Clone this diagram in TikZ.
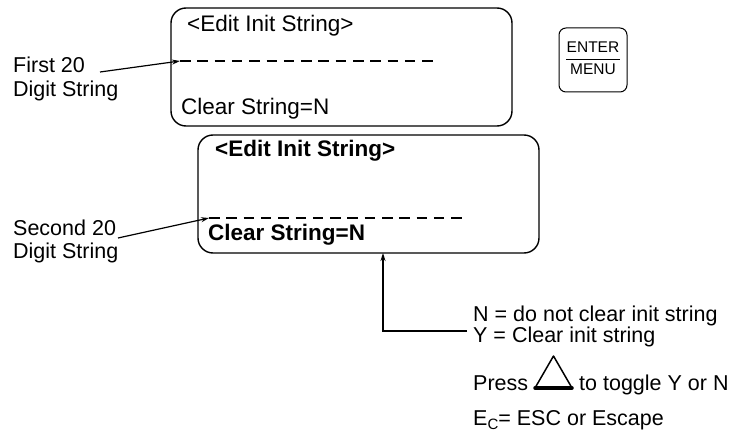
\documentclass[tikz,border=0pt]{standalone}
\usepackage{fontspec}
\setmainfont{Liberation Sans}
\usetikzlibrary{positioning, calc, arrows.meta}

\begin{document}
\begin{tikzpicture}[
    x=1pt, y=-1pt,
    >={Stealth[length=8pt, width=5pt]},
    disp_box/.style={draw, line width=1.4pt, rounded corners=15pt},
    key_box/.style={draw, line width=1pt, rounded corners=7pt},
    txt/.style={anchor=base west, inner sep=0pt, font=\fontsize{22.5}{24}\selectfont},
    btxt/.style={txt, font=\fontsize{22.5}{24}\selectfont\bfseries},
    note/.style={anchor=base west, inner sep=0pt, font=\fontsize{21.5}{23}\selectfont},
    digit_line/.style={line width=1.2pt, dash pattern=on 10.5pt off 6.8pt},
    note_arrow/.style={->, line width=1.2pt}
]
    \useasboundingbox (0,0) rectangle (732,436);

    % ======================================================================
    % ERSTE ANZEIGE
    % ======================================================================
    \draw[disp_box] (171,8) rectangle (512,126);
    \node[txt] (title1) at (187,32) {<Edit Init String>};
    \coordinate (dash1s) at (180,61);
    \coordinate (dash1e) at (438,61);
    \draw[digit_line] (dash1s) -- (dash1e);
    \node[txt] (clear1) at (181,115) {Clear String=N};

    % Beschriftung links
    \node[note] (first20) at (13,73) {First 20};
    \node[note] (digit1) at (13,97) {Digit String};
    \coordinate (arr1s) at (100,72);
    \draw[note_arrow] (arr1s) -- (dash1s);

    % ENTER/MENU Taste
    \draw[key_box] (559,28) rectangle (627,92);
    \node[anchor=base, inner sep=0pt, font=\fontsize{15.5}{16}\selectfont] (enter) at (593,53) {ENTER};
    \node[anchor=base, inner sep=0pt, font=\fontsize{15.5}{16}\selectfont] (menu) at (593,75) {MENU};
    \draw[line width=1pt] (566,60) -- (620,60);

    % ======================================================================
    % ZWEITE ANZEIGE
    % ======================================================================
    \draw[disp_box] (198,135) rectangle (539,253);
    \node[btxt] (title2) at (215,157) {<Edit Init String>};
    \coordinate (dash2s) at (209,218);
    \coordinate (dash2e) at (468,218);
    \draw[digit_line] (dash2s) -- (dash2e);
    \node[btxt] (clear2) at (208,240) {Clear String=N};

    % Beschriftung links
    \node[note] (second20) at (13,235) {Second 20};
    \node[note] (digit2) at (13,258) {Digit String};
    \coordinate (arr2s) at (118,238);
    \draw[note_arrow] (arr2s) -- (dash2s);

    % ======================================================================
    % ERKLAERUNG
    % ======================================================================
    \coordinate (bend) at (383,331);
    \coordinate (foot) at (467,331);
    \coordinate (boxbot) at (383,253);
    \draw[note_arrow] (foot) -- (bend) -- (boxbot);

    \node[note] (nline) at (473,321) {N = do not clear init string};
    \node[note] (yline) at (473,342) {Y = Clear init string};

    \node[note] (press) at (473,390) {Press};
    \coordinate (triL) at (535,388);
    \coordinate (triR) at (572,388);
    \coordinate (triT) at (553.5,356);
    \draw[line width=1.5pt, line join=round] (triL) -- (triT) -- (triR);
    \draw[line width=3.5pt, line cap=round] (triL) -- (triR);
    \node[note] (toggle) at (579,390) {to toggle Y or N};

    \node[note] (escape) at (473,425)
        {E\raisebox{-4.5pt}{\fontsize{15}{15}\selectfont C}= ESC or Escape};

\end{tikzpicture}
\end{document}
